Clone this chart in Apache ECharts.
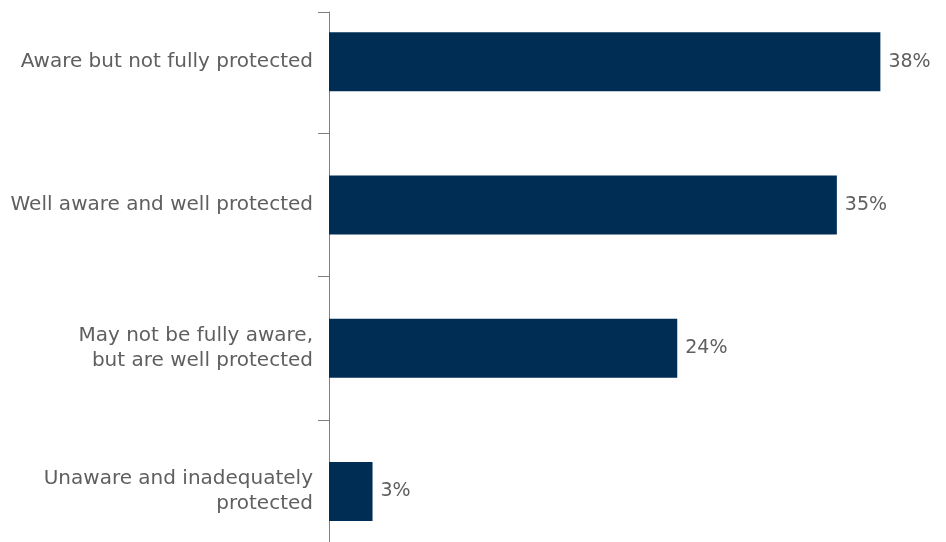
<!DOCTYPE html>
<html>
<head>
<meta charset="utf-8">
<script src="https://cdn.jsdelivr.net/npm/echarts@6/dist/echarts.min.js"></script>
<style>
  html, body { margin: 0; padding: 0; background: #ffffff; }
  #chart { width: 946px; height: 542px; }
</style>
</head>
<body>
<div id="chart"></div>
<script>
// Survey response categories, top to bottom
const categories = [
  'Aware but not fully protected',
  'Well aware and well protected',
  'May not be fully aware,\nbut are well protected',
  'Unaware and inadequately\nprotected'
];
// Share of respondents (%)
const shares = [38, 35, 24, 3];

const textColor = '#5f5f5f';
const axisColor = '#7f7f7f';
const barColor = '#002d54';
const fontFamily = 'DejaVu Sans, sans-serif';

const chart = echarts.init(document.getElementById('chart'), null, { renderer: 'canvas' });

chart.setOption({
  animation: false,
  backgroundColor: '#ffffff',
  grid: [
    // bars
    { left: 329, width: 580.4, top: -10, height: 573, containLabel: false, outerBoundsMode: 'none' },
    // vertical axis line with its top cap tick
    { left: 329, width: 580.4, top: 12, height: 530, containLabel: false, outerBoundsMode: 'none' }
  ],
  xAxis: [
    { gridIndex: 0, type: 'value', min: 0, max: 40, show: false },
    { gridIndex: 1, type: 'value', min: 0, max: 40, show: false }
  ],
  yAxis: [
    {
      gridIndex: 0,
      type: 'category',
      data: categories,
      inverse: true,
      axisLine: { show: false },
      axisTick: { show: true, length: 11, lineStyle: { color: axisColor, width: 1 } },
      axisLabel: {
        color: textColor,
        fontFamily: fontFamily,
        fontSize: 20,
        lineHeight: 25,
        margin: 16,
        align: 'right'
      },
      splitLine: { show: false }
    },
    {
      gridIndex: 1,
      type: 'value',
      min: 0,
      max: 1,
      interval: 1,
      inverse: true,
      axisLine: { show: true, lineStyle: { color: axisColor, width: 1 } },
      axisTick: { show: true, length: 11, lineStyle: { color: axisColor, width: 1 } },
      axisLabel: { show: false },
      splitLine: { show: false }
    }
  ],
  series: [
    {
      type: 'bar',
      xAxisIndex: 0,
      yAxisIndex: 0,
      data: shares,
      barWidth: 59,
      itemStyle: { color: barColor },
      label: {
        show: true,
        position: 'right',
        distance: 8,
        formatter: p => p.value + '%',
        color: textColor,
        fontFamily: fontFamily,
        fontSize: 19
      }
    }
  ]
});
</script>
</body>
</html>
